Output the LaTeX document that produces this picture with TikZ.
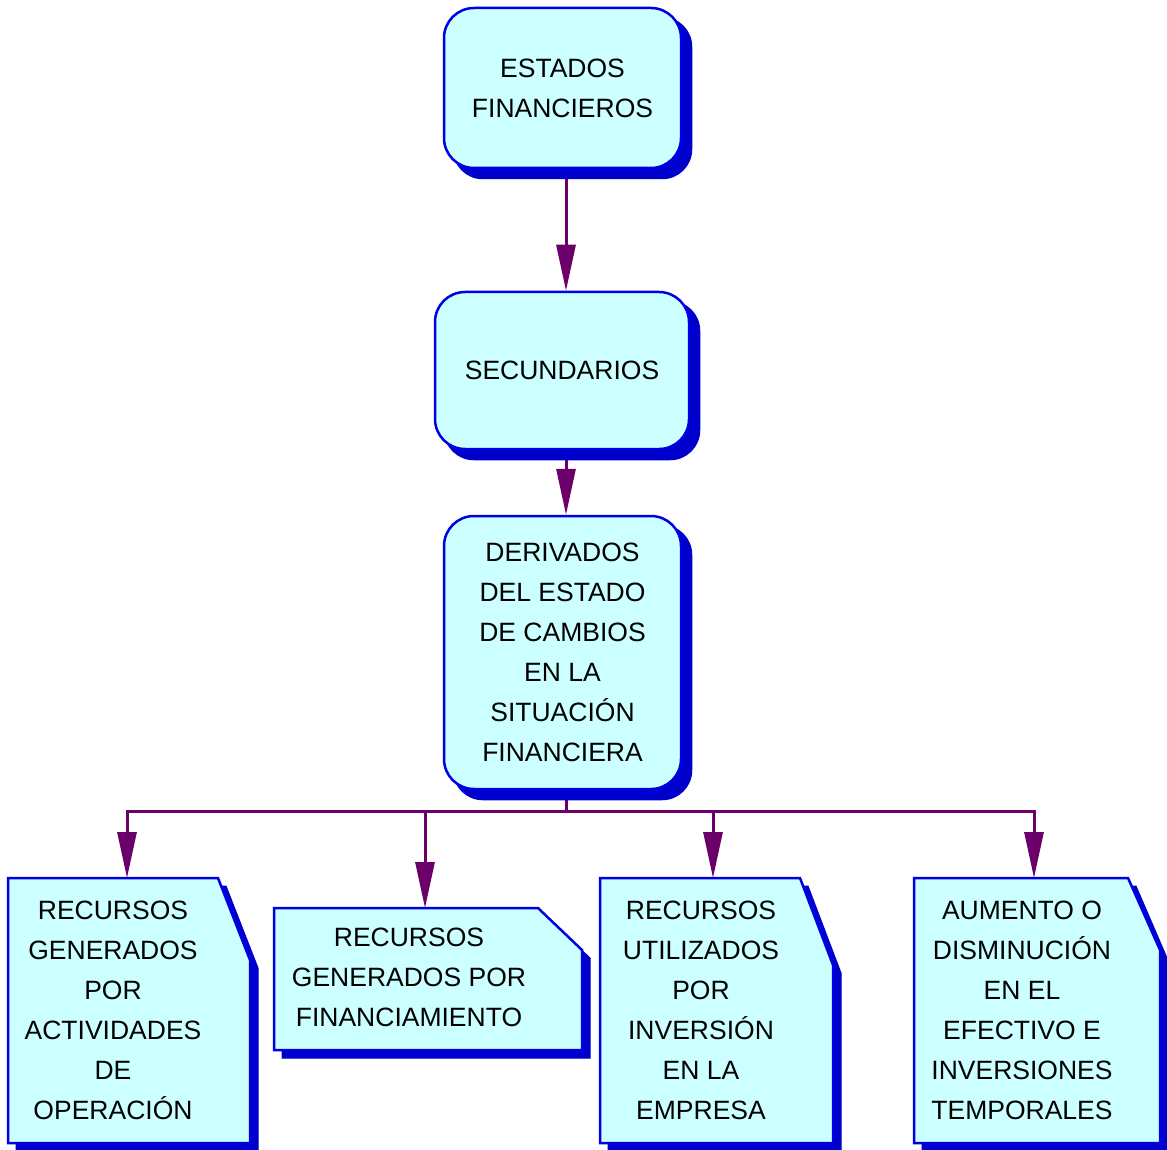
\documentclass[tikz,border=0pt]{standalone}
\usepackage{fontspec}
\setmainfont{Liberation Sans}
\usetikzlibrary{arrows.meta,calc,backgrounds}
\definecolor{cyanf}{HTML}{CCFFFF}
\definecolor{bdr}{HTML}{0000E6}
\definecolor{shad}{HTML}{0000CC}
\definecolor{purp}{HTML}{6B006B}
\tikzset{
  rbox/.style={draw=bdr, line width=2.5pt, fill=cyanf, rounded corners=30pt, inner sep=0pt,
    align=center, font=\fontsize{26.5}{40}\selectfont},
  rshad/.style={fill=shad, rounded corners=30pt},
  dtext/.style={inner sep=0pt, align=center, font=\fontsize{26.5}{40}\selectfont},
  dbox/.style={draw=bdr, line width=2.5pt, fill=cyanf, line join=miter},
  dshad/.style={fill=shad, draw=shad, line width=1pt},
  arr/.style={draw=purp, line width=3pt, -{Triangle[length=46pt,width=19pt]}},
  ln/.style={draw=purp, line width=3pt}
}
\begin{document}
\begin{tikzpicture}[x=1pt,y=-1pt]
\useasboundingbox (0,0) rectangle (1167,1150);

% main rounded nodes
\node[rbox, minimum width=237pt, minimum height=160pt] (e1) at (562.5,88) {ESTADOS\\FINANCIEROS};
\node[rbox, minimum width=254pt, minimum height=157pt] (e2) at (562,370.5) {SECUNDARIOS};
\node[rbox, minimum width=237pt, minimum height=273pt] (e3) at (562.5,652.5)
  {DERIVADOS\\DEL ESTADO\\DE CAMBIOS\\EN LA\\SITUACIÓN\\FINANCIERA};

% bottom document texts
\node[dtext] (a) at (113,1010) {RECURSOS\\GENERADOS\\POR\\ACTIVIDADES\\DE\\OPERACIÓN};
\node[dtext] (b) at (409,977) {RECURSOS\\GENERADOS POR\\FINANCIAMIENTO};
\node[dtext] (c) at (701,1010) {RECURSOS\\UTILIZADOS\\POR\\INVERSIÓN\\EN LA\\EMPRESA};
\node[dtext] (d) at (1022,1010) {AUMENTO O\\DISMINUCIÓN\\EN EL\\EFECTIVO E\\INVERSIONES\\TEMPORALES};

\coordinate (ta) at ($(a)+(14,-132)$);
\coordinate (tb) at ($(b)+(16,-69)$);
\coordinate (tc) at ($(c)+(12,-132)$);
\coordinate (td) at ($(d)+(12,-132)$);
\coordinate (bus) at (566,811);

\begin{scope}[on background layer]
  % connectors
  \draw[arr] (e1.south -| 566,0) -- (e2.north -| 566,0);
  \draw[arr] (e2.south -| 566,0) -- (e3.north -| 566,0);
  \draw[ln] (e3.south -| 566,0) -- (bus);
  \draw[arr] (bus) -| (ta);
  \draw[arr] (bus) -| (tb);
  \draw[arr] (bus) -| (tc);
  \draw[arr] (bus) -| (td);
  % shadows of rounded boxes
  \fill[rshad] ($(e1.south west)+(10,10)$) rectangle ($(e1.north east)+(10,10)$);
  \fill[rshad] ($(e2.south west)+(10,10)$) rectangle ($(e2.north east)+(10,10)$);
  \fill[rshad] ($(e3.south west)+(10,10)$) rectangle ($(e3.north east)+(10,10)$);
  % document shapes: shadows (offset 8,8) then bodies
  \draw[dshad] ($(a)+(-97,-124)$) -- ($(a)+(113,-124)$) -- ($(a)+(145,-42)$) -- ($(a)+(145,141)$) -- ($(a)+(-97,141)$) -- cycle;
  \draw[dshad] ($(b)+(-127,-61)$) -- ($(b)+(137,-61)$) -- ($(b)+(181,-19)$) -- ($(b)+(181,81)$) -- ($(b)+(-127,81)$) -- cycle;
  \draw[dshad] ($(c)+(-93,-124)$) -- ($(c)+(107,-124)$) -- ($(c)+(140,-37)$) -- ($(c)+(140,141)$) -- ($(c)+(-93,141)$) -- cycle;
  \draw[dshad] ($(d)+(-100,-124)$) -- ($(d)+(114,-124)$) -- ($(d)+(145,-52)$) -- ($(d)+(145,141)$) -- ($(d)+(-100,141)$) -- cycle;
  \draw[dbox] ($(a)+(-105,-132)$) -- ($(a)+(105,-132)$) -- ($(a)+(137,-50)$) -- ($(a)+(137,133)$) -- ($(a)+(-105,133)$) -- cycle;
  \draw[dbox] ($(b)+(-135,-69)$) -- ($(b)+(129,-69)$) -- ($(b)+(173,-27)$) -- ($(b)+(173,73)$) -- ($(b)+(-135,73)$) -- cycle;
  \draw[dbox] ($(c)+(-101,-132)$) -- ($(c)+(99,-132)$) -- ($(c)+(132,-45)$) -- ($(c)+(132,133)$) -- ($(c)+(-101,133)$) -- cycle;
  \draw[dbox] ($(d)+(-108,-132)$) -- ($(d)+(106,-132)$) -- ($(d)+(138,-60)$) -- ($(d)+(138,133)$) -- ($(d)+(-108,133)$) -- cycle;
\end{scope}
\end{tikzpicture}
\end{document}
